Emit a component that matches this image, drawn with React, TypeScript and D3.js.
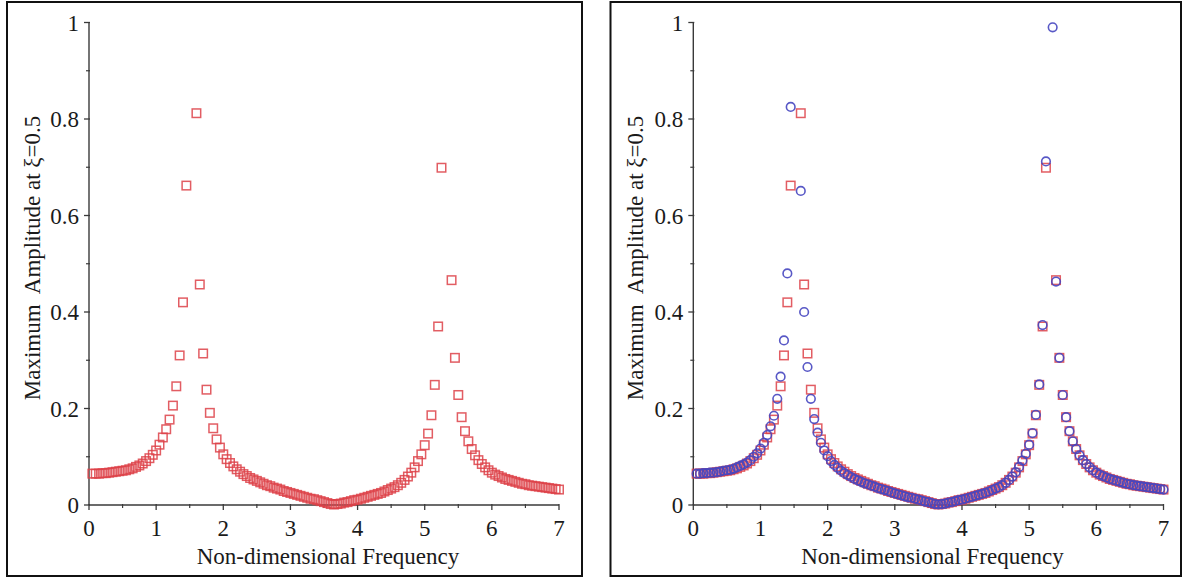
import React from "react";
import * as d3 from "d3";

// Non-dimensional frequency samples
const freq: number[] = [
  0.05, 0.1, 0.15, 0.2, 0.25, 0.3, 0.35, 0.4, 0.45, 0.5,
  0.55, 0.6, 0.65, 0.7, 0.75, 0.8, 0.85, 0.9, 0.95, 1.0,
  1.05, 1.1, 1.15, 1.2, 1.25, 1.3, 1.35, 1.4, 1.45, 1.5,
  1.55, 1.6, 1.65, 1.7, 1.75, 1.8, 1.85, 1.9, 1.95, 2.0,
  2.05, 2.1, 2.15, 2.2, 2.25, 2.3, 2.35, 2.4, 2.45, 2.5,
  2.55, 2.6, 2.65, 2.7, 2.75, 2.8, 2.85, 2.9, 2.95, 3.0,
  3.05, 3.1, 3.15, 3.2, 3.25, 3.3, 3.35, 3.4, 3.45, 3.5,
  3.55, 3.6, 3.65, 3.7, 3.75, 3.8, 3.85, 3.9, 3.95, 4.0,
  4.05, 4.1, 4.15, 4.2, 4.25, 4.3, 4.35, 4.4, 4.45, 4.5,
  4.55, 4.6, 4.65, 4.7, 4.75, 4.8, 4.85, 4.9, 4.95, 5.0,
  5.05, 5.1, 5.15, 5.2, 5.25, 5.3, 5.35, 5.4, 5.45, 5.5,
  5.55, 5.6, 5.65, 5.7, 5.75, 5.8, 5.85, 5.9, 5.95, 6.0,
  6.05, 6.1, 6.15, 6.2, 6.25, 6.3, 6.35, 6.4, 6.45, 6.5,
  6.55, 6.6, 6.65, 6.7, 6.75, 6.8, 6.85, 6.9, 6.95, 7.0,
];

// Red squares (null = above the plotted range)
const ampSquares: (number | null)[] = [
  0.065, 0.065, 0.065, 0.066, 0.066, 0.067, 0.068, 0.069, 0.070, 0.071,
  0.072, 0.074, 0.076, 0.079, 0.082, 0.086, 0.091, 0.097, 0.104, 0.113,
  0.125, 0.140, 0.157, 0.177, 0.206, 0.246, 0.310, 0.420, 0.662, null,
  null, 0.812, 0.457, 0.314, 0.239, 0.191, 0.159, 0.136, 0.119, 0.105,
  0.095, 0.087, 0.080, 0.074, 0.069, 0.064, 0.060, 0.056, 0.053, 0.050,
  0.047, 0.044, 0.041, 0.039, 0.036, 0.034, 0.032, 0.029, 0.027, 0.025,
  0.023, 0.021, 0.019, 0.017, 0.015, 0.013, 0.012, 0.010, 0.008, 0.006,
  0.004, 0.002, 0.001, 0.002, 0.003, 0.005, 0.006, 0.008, 0.010, 0.011,
  0.013, 0.015, 0.017, 0.019, 0.021, 0.023, 0.025, 0.028, 0.031, 0.034,
  0.037, 0.041, 0.046, 0.052, 0.059, 0.067, 0.078, 0.091, 0.105, 0.124,
  0.148, 0.186, 0.249, 0.370, 0.699, null, null, 0.466, 0.305, 0.228,
  0.182, 0.153, 0.132, 0.116, 0.103, 0.093, 0.085, 0.078, 0.072, 0.067,
  0.063, 0.060, 0.057, 0.054, 0.052, 0.050, 0.048, 0.046, 0.044, 0.043,
  0.041, 0.040, 0.039, 0.038, 0.037, 0.036, 0.035, 0.034, 0.033, 0.032,
];

// Blue circles (right panel only)
const ampCircles: (number | null)[] = [
  0.065, 0.065, 0.066, 0.066, 0.067, 0.067, 0.068, 0.069, 0.071, 0.072,
  0.073, 0.075, 0.078, 0.081, 0.084, 0.088, 0.093, 0.100, 0.107, 0.117,
  0.129, 0.145, 0.163, 0.185, 0.220, 0.266, 0.341, 0.480, 0.825, null,
  null, 0.651, 0.400, 0.286, 0.220, 0.178, 0.150, 0.129, 0.113, 0.101,
  0.091, 0.083, 0.077, 0.071, 0.066, 0.062, 0.058, 0.054, 0.051, 0.048,
  0.045, 0.043, 0.040, 0.038, 0.035, 0.033, 0.031, 0.029, 0.026, 0.024,
  0.022, 0.020, 0.018, 0.016, 0.015, 0.013, 0.011, 0.009, 0.007, 0.006,
  0.004, 0.002, 0.001, 0.002, 0.003, 0.005, 0.006, 0.008, 0.010, 0.011,
  0.013, 0.015, 0.017, 0.019, 0.021, 0.023, 0.025, 0.028, 0.031, 0.034,
  0.037, 0.041, 0.046, 0.052, 0.059, 0.068, 0.079, 0.092, 0.106, 0.125,
  0.149, 0.187, 0.250, 0.373, 0.712, null, 0.990, 0.463, 0.305, 0.228,
  0.182, 0.153, 0.132, 0.116, 0.103, 0.093, 0.085, 0.078, 0.072, 0.067,
  0.063, 0.060, 0.057, 0.054, 0.052, 0.050, 0.048, 0.046, 0.044, 0.043,
  0.041, 0.040, 0.039, 0.038, 0.037, 0.036, 0.035, 0.034, 0.033, 0.032,
];

const xTickLabels: number[] = [0, 1, 2, 3, 4, 5, 6, 7];
const yTickLabels: string[] = ["0", "0.2", "0.4", "0.6", "0.8", "1"];
const xMinorTicks: number[] = [0.5, 1.5, 2.5, 3.5, 4.5, 5.5, 6.5];
const yMinorTicks: number[] = [0.1, 0.3, 0.5, 0.7, 0.9];
const xTitle = "Non-dimensional Frequency";
const yTitle = "Maximum  Amplitude at \u03BE=0.5";

const RED = "#dd4148";
const BLUE = "#4646c0";
const FONT = "'Liberation Serif', 'Times New Roman', serif";

interface PanelProps {
  frame: [number, number, number, number];
  xRange: [number, number];
  yRange: [number, number];
  showCircles: boolean;
  yTitleX: number;
}

function Panel({ frame, xRange, yRange, showCircles, yTitleX }: PanelProps) {
  const x = d3.scaleLinear().domain([0, 7]).range(xRange);
  const y = d3.scaleLinear().domain([0, 1]).range(yRange);
  const axisColor = "#3a3a3a";
  const sq = 8.5;
  const squarePts = freq
    .map((f, i) => ({ f, v: ampSquares[i] }))
    .filter((d) => d.v !== null && (d.v as number) <= 1);
  const circlePts = freq
    .map((f, i) => ({ f, v: ampCircles[i] }))
    .filter((d) => d.v !== null && (d.v as number) <= 1);
  const cx = (xRange[0] + xRange[1]) / 2;
  return (
    <g>
      <rect
        x={frame[0]}
        y={frame[1]}
        width={frame[2]}
        height={frame[3]}
        fill="white"
        stroke="#111"
        strokeWidth={2}
      />
      {/* axes */}
      <line x1={xRange[0]} x2={xRange[1]} y1={y(0)} y2={y(0)} stroke={axisColor} strokeWidth={1.4} />
      <line x1={x(0)} x2={x(0)} y1={y(0)} y2={y(1)} stroke={axisColor} strokeWidth={1.4} />
      {xTickLabels.map((t) => (
        <g key={"xt" + t}>
          <line x1={x(t)} x2={x(t)} y1={y(0) - 1} y2={y(0) + 5} stroke={axisColor} strokeWidth={1.3} />
          <text
            x={x(t)}
            y={y(0) + 31}
            textAnchor="middle"
            fontFamily={FONT}
            fontSize={23}
            fill="#1a1a1a"
          >
            {t}
          </text>
        </g>
      ))}
      {xMinorTicks.map((t) => (
        <line key={"xm" + t} x1={x(t)} x2={x(t)} y1={y(0) - 1} y2={y(0) + 3} stroke={axisColor} strokeWidth={1.2} />
      ))}
      {yTickLabels.map((t) => (
        <g key={"yt" + t}>
          <line x1={x(0) - 5} x2={x(0) + 1} y1={y(+t)} y2={y(+t)} stroke={axisColor} strokeWidth={1.3} />
          <text
            x={x(0) - 10}
            y={y(+t)}
            dy="0.35em"
            textAnchor="end"
            fontFamily={FONT}
            fontSize={23}
            fill="#1a1a1a"
          >
            {t}
          </text>
        </g>
      ))}
      {yMinorTicks.map((t) => (
        <line key={"ym" + t} x1={x(0) - 3} x2={x(0) + 1} y1={y(t)} y2={y(t)} stroke={axisColor} strokeWidth={1.2} />
      ))}
      <text
        x={cx + 4}
        y={y(0) + 59}
        textAnchor="middle"
        fontFamily={FONT}
        fontSize={23}
        fill="#1a1a1a"
      >
        {xTitle}
      </text>
      <text
        transform={`translate(${yTitleX},258) rotate(-90)`}
        textAnchor="middle"
        fontFamily={FONT}
        fontSize={23}
        fill="#1a1a1a"
        style={{ whiteSpace: "pre" }}
      >
        {yTitle}
      </text>
      {/* data */}
      {squarePts.map((d, i) => (
        <rect
          key={"s" + i}
          x={x(d.f) - sq / 2}
          y={y(d.v as number) - sq / 2}
          width={sq}
          height={sq}
          fill="none"
          stroke={RED}
          strokeWidth={1.5}
          opacity={0.85}
        />
      ))}
      {showCircles &&
        circlePts.map((d, i) => (
          <circle
            key={"c" + i}
            cx={x(d.f)}
            cy={y(d.v as number)}
            r={4.3}
            fill="none"
            stroke={BLUE}
            strokeWidth={1.6}
            opacity={0.9}
          />
        ))}
    </g>
  );
}

export default function App() {
  return (
    <svg
      width={1186}
      height={579}
      style={{ position: "absolute", left: 0, top: 0, background: "white" }}
    >
      <rect x={0} y={0} width={1186} height={579} fill="white" />
      <Panel
        frame={[7, 2, 575, 574]}
        xRange={[89, 559]}
        yRange={[505, 22.5]}
        showCircles={false}
        yTitleX={40}
      />
      <Panel
        frame={[610.5, 2, 570.5, 574]}
        xRange={[693.3, 1163.5]}
        yRange={[505, 22.5]}
        showCircles={true}
        yTitleX={643}
      />
    </svg>
  );
}
